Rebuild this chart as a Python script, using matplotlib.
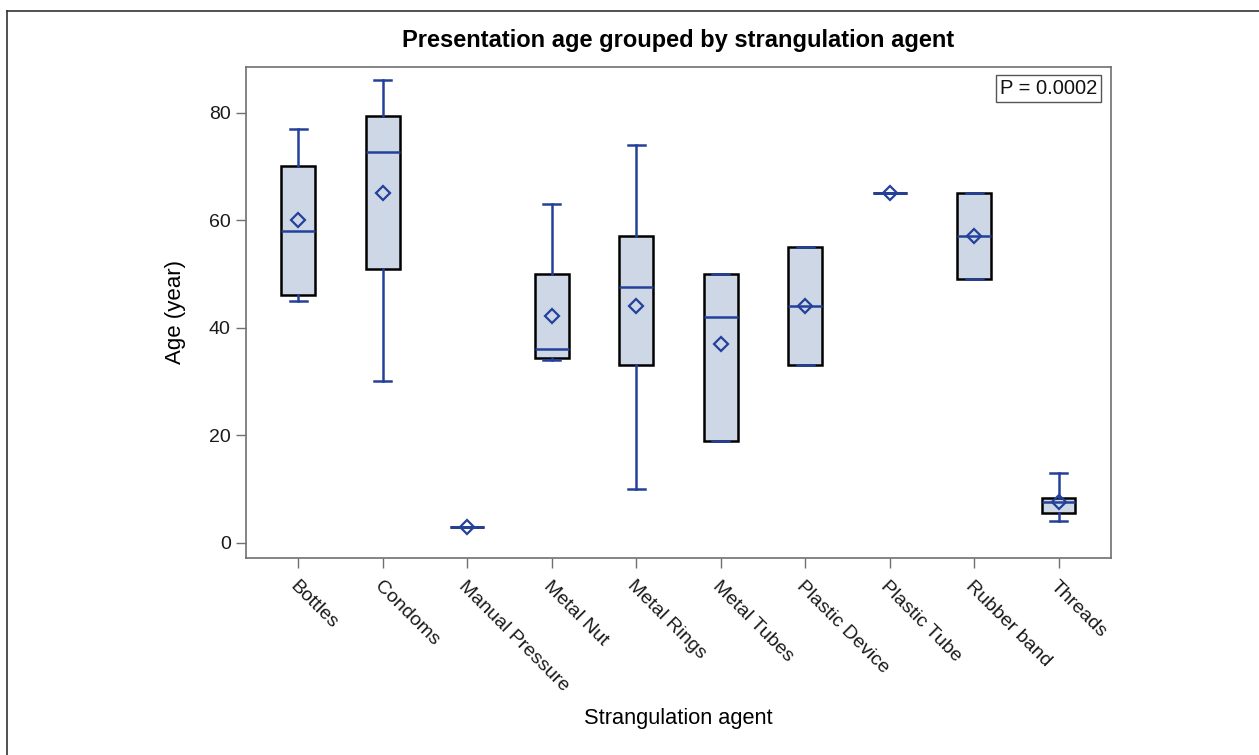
import matplotlib
matplotlib.use("Agg")
import matplotlib.pyplot as plt
from matplotlib.lines import Line2D

# Summary statistics per strangulation agent (age in years)
agents = ["Bottles", "Condoms", "Manual Pressure", "Metal Nut", "Metal Rings",
          "Metal Tubes", "Plastic Device", "Plastic Tube", "Rubber band", "Threads"]
whis_lo = [45, 30, 3, 34, 10, 19, 33, 65, 49, 4]
q1      = [46, 51, 3, 34.4, 33, 19, 33, 65, 49, 5.5]
median  = [58, 72.6, 3, 36, 47.5, 42, 44, 65, 57, 7.5]
q3      = [70, 79.4, 3, 50, 57, 50, 55, 65, 65, 8.25]
whis_hi = [77, 86, 3, 63, 74, 50, 55, 65, 65, 13]
mean    = [60, 65.1, 3, 42.2, 44, 37, 44, 65, 57, 7.5]
p_value = "P = 0.0002"

LINE = "#24419a"
FILL = "#cdd7e6"
FRAME = "#707070"

plt.rcParams["font.family"] = ["Liberation Sans", "DejaVu Sans"]

fig = plt.figure(figsize=(12.59, 7.55), dpi=100)
ax = fig.add_axes([0.1954, 0.2609, 0.687, 0.6504])

stats = []
for i, name in enumerate(agents):
    stats.append(dict(label=name, whislo=whis_lo[i], q1=q1[i], med=median[i],
                      q3=q3[i], whishi=whis_hi[i], mean=mean[i], fliers=[]))

ax.bxp(stats, positions=range(len(agents)), widths=0.4, patch_artist=True,
       showmeans=True, showfliers=False,
       boxprops=dict(facecolor=FILL, edgecolor="black", linewidth=1.8),
       whiskerprops=dict(color=LINE, linewidth=1.8),
       capprops=dict(color=LINE, linewidth=1.8),
       medianprops=dict(color=LINE, linewidth=1.8),
       meanprops=dict(marker="D", markersize=7.5, markerfacecolor="none",
                      markeredgecolor=LINE, markeredgewidth=1.6),
       capwidths=0.2)

ax.set_xlim(-0.62, 9.62)
ax.set_ylim(-2.85, 88.5)
ax.set_yticks([0, 20, 40, 60, 80])
ax.set_xticks(range(len(agents)))
ax.set_xticklabels(agents, rotation=-45, ha="left", va="top",
                   rotation_mode="anchor", fontsize=14, color="#1a1a1a")
ax.tick_params(axis="y", labelsize=14, labelcolor="#1a1a1a", color=FRAME,
               length=7, width=1, pad=4)
ax.tick_params(axis="x", color=FRAME, length=7, width=1, pad=7)
for sp in ax.spines.values():
    sp.set_color(FRAME)
    sp.set_linewidth(1.2)

ax.text(0.984, 0.975, p_value, transform=ax.transAxes, ha="right", va="top",
        fontsize=14.5, color="#111111",
        bbox=dict(boxstyle="square,pad=0.2", facecolor="white",
                  edgecolor="#555555", linewidth=1))

cx = 0.1954 + 0.687 / 2
fig.text(cx, 0.947, "Presentation age grouped by strangulation agent",
         ha="center", va="center", fontsize=17, fontweight="bold")
fig.text(cx, 0.049, "Strangulation agent", ha="center", va="center", fontsize=15.7)
fig.text(0.139, 0.5861, "Age (year)", ha="center", va="center",
         rotation=90, fontsize=16)

# thin frame along the top and left edges of the figure
fig.add_artist(Line2D([0.0058, 0.0058], [0.0, 0.9858], transform=fig.transFigure,
                      color="#333333", linewidth=1.2))
fig.add_artist(Line2D([0.0058, 1.0], [0.9858, 0.9858], transform=fig.transFigure,
                      color="#333333", linewidth=1.2))

fig.savefig("out.png", dpi=100)
